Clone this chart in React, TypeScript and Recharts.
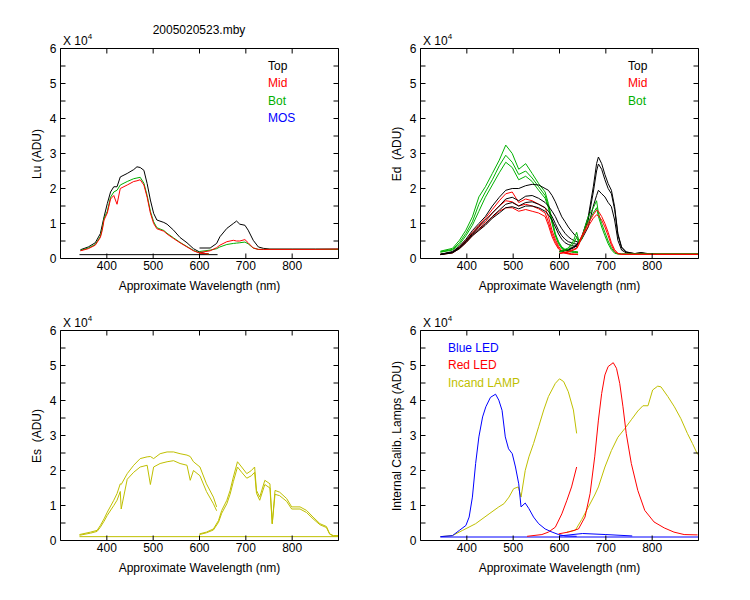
import React from 'react';
import { LineChart, Line, XAxis, YAxis } from 'recharts';

const FONT = '"Liberation Sans", Arial, sans-serif';
const BLACK = '#000000';
const RED = '#FF0000';
const GREEN = '#00B000';
const BLUE = '#0000FF';
const OLIVE = '#BFBF00';

const xTicks = [400, 500, 600, 700, 800];
const yTicks = [0, 0.5, 1, 1.5, 2, 2.5, 3, 3.5, 4, 4.5, 5, 5.5, 6];

// ---- Lu (x 10^4 ADU) ----
const luWlA = [343, 360, 375, 386, 390, 394, 401, 408, 415, 422, 429, 444, 458, 465, 472, 480, 487, 494, 501, 508, 523, 530, 544, 558, 573, 587, 601, 620];
const luTopA = [0.25, 0.33, 0.45, 0.71, 0.95, 1.19, 1.57, 1.9, 2.05, 2.05, 2.33, 2.43, 2.54, 2.62, 2.6, 2.52, 2.14, 1.67, 1.29, 1.1, 1.03, 0.98, 0.81, 0.6, 0.45, 0.28, 0.18, 0.12];
const luMidA = [0.22, 0.28, 0.38, 0.6, 0.8, 1.1, 1.3, 1.7, 1.8, 1.55, 2.0, 2.1, 2.2, 2.22, 2.25, 2.1, 1.75, 1.3, 1.0, 0.85, 0.78, 0.7, 0.57, 0.45, 0.33, 0.22, 0.15, 0.13];
const luBotA = [0.23, 0.3, 0.4, 0.63, 0.85, 1.15, 1.35, 1.75, 1.9, 1.95, 2.1, 2.2, 2.28, 2.3, 2.32, 2.15, 1.8, 1.35, 1.05, 0.88, 0.8, 0.72, 0.59, 0.46, 0.34, 0.23, 0.16, 0.13];
const luWlB = [600, 623, 637, 644, 659, 673, 680, 687, 698, 705, 716, 727, 738, 752, 800, 850, 900];
const luTopB = [0.3, 0.3, 0.43, 0.62, 0.86, 1.0, 1.07, 0.98, 0.95, 0.81, 0.52, 0.33, 0.29, 0.27, 0.27, 0.27, 0.27];
const luMidB = [0.17, 0.22, 0.31, 0.38, 0.48, 0.52, 0.5, 0.5, 0.54, 0.45, 0.3, 0.26, 0.26, 0.26, 0.26, 0.26, 0.27];
const luBotB = [0.2, 0.24, 0.28, 0.33, 0.4, 0.43, 0.44, 0.45, 0.47, 0.42, 0.3, 0.26, 0.26, 0.26, 0.26, 0.26, 0.26];
const luDarkWl = [341, 639];
const luDark = [0.11, 0.11];

// ---- Ed ----
const edWlA = [343, 369, 384, 398, 412, 426, 440, 455, 470, 484, 498, 512, 527, 541, 555, 569, 576, 584, 591, 598, 605, 612, 619, 626, 633, 640];
const edBot1A = [0.21, 0.29, 0.52, 0.81, 1.19, 1.76, 2.05, 2.43, 2.81, 3.24, 3.0, 2.55, 2.71, 2.43, 2.14, 1.9, 1.57, 1.1, 0.71, 0.48, 0.33, 0.26, 0.24, 0.22, 0.2, 0.19];
const edBot2A = [0.19, 0.26, 0.45, 0.72, 1.05, 1.55, 1.9, 2.25, 2.65, 2.95, 2.75, 2.4, 2.5, 2.3, 2.05, 1.8, 1.5, 1.05, 0.68, 0.45, 0.3, 0.25, 0.22, 0.2, 0.18, 0.17];
const edBot3A = [0.18, 0.24, 0.4, 0.65, 0.95, 1.35, 1.75, 2.1, 2.45, 2.75, 2.6, 2.25, 2.35, 2.2, 1.95, 1.72, 1.45, 1.0, 0.65, 0.42, 0.28, 0.23, 0.2, 0.18, 0.17, 0.16];
const edTop1A = [0.12, 0.2, 0.35, 0.55, 0.8, 1.0, 1.2, 1.5, 1.75, 1.95, 2.0, 2.0, 2.08, 2.12, 2.1, 2.0, 1.95, 1.8, 1.62, 1.4, 1.19, 1.05, 0.9, 0.78, 0.67, 0.57];
const edTop2A = [0.12, 0.18, 0.32, 0.5, 0.72, 0.92, 1.1, 1.3, 1.5, 1.7, 1.75, 1.65, 1.78, 1.8, 1.72, 1.6, 1.5, 1.35, 1.2, 1.0, 0.85, 0.72, 0.62, 0.55, 0.5, 0.47];
const edTop3A = [0.12, 0.17, 0.3, 0.48, 0.68, 0.85, 1.0, 1.2, 1.38, 1.55, 1.6, 1.5, 1.6, 1.62, 1.55, 1.45, 1.35, 1.2, 1.0, 0.8, 0.65, 0.55, 0.48, 0.45, 0.42, 0.4];
const edTop4A = [0.11, 0.16, 0.28, 0.45, 0.65, 0.8, 0.95, 1.15, 1.3, 1.45, 1.48, 1.42, 1.5, 1.5, 1.45, 1.35, 1.25, 1.1, 0.9, 0.7, 0.55, 0.45, 0.4, 0.37, 0.35, 0.33];
const edMid1A = [0.12, 0.18, 0.33, 0.52, 0.75, 0.95, 1.15, 1.4, 1.65, 1.85, 1.9, 1.6, 1.7, 1.65, 1.55, 1.45, 1.2, 0.8, 0.55, 0.35, 0.22, 0.17, 0.15, 0.13, 0.12, 0.12];
const edMid2A = [0.12, 0.17, 0.3, 0.48, 0.7, 0.9, 1.05, 1.3, 1.5, 1.65, 1.62, 1.5, 1.55, 1.5, 1.42, 1.3, 1.05, 0.7, 0.48, 0.3, 0.2, 0.16, 0.14, 0.12, 0.12, 0.12];
const edMid3A = [0.11, 0.16, 0.28, 0.45, 0.65, 0.82, 0.98, 1.18, 1.35, 1.45, 1.45, 1.35, 1.4, 1.35, 1.3, 1.2, 0.95, 0.62, 0.42, 0.27, 0.18, 0.15, 0.13, 0.12, 0.12, 0.11];
const edWlB = [600, 619, 630, 637, 642, 648, 662, 673, 680, 684, 691, 698, 705, 712, 719, 726, 734, 744, 762, 776, 791, 810, 900];
const edTop1B = [0.21, 0.26, 0.33, 0.4, 0.5, 0.62, 1.19, 2.05, 2.71, 2.9, 2.71, 2.4, 2.14, 1.95, 1.48, 0.71, 0.33, 0.19, 0.14, 0.17, 0.14, 0.12, 0.12];
const edTop2B = [0.2, 0.25, 0.32, 0.38, 0.48, 0.6, 1.1, 1.9, 2.5, 2.7, 2.55, 2.25, 2.0, 1.85, 1.4, 0.68, 0.3, 0.18, 0.14, 0.16, 0.13, 0.12, 0.12];
const edTop3B = [0.19, 0.24, 0.3, 0.36, 0.45, 0.55, 0.9, 1.5, 1.8, 1.95, 1.85, 1.76, 1.6, 1.48, 1.1, 0.52, 0.24, 0.16, 0.13, 0.15, 0.13, 0.12, 0.12];
const edMid1B = [0.15, 0.2, 0.26, 0.3, 0.45, 0.65, 1.0, 1.25, 1.38, 1.35, 1.2, 1.0, 0.75, 0.45, 0.25, 0.15, 0.12, 0.12, 0.12, 0.12, 0.12, 0.12, 0.12];
const edMid2B = [0.14, 0.18, 0.24, 0.28, 0.4, 0.6, 0.92, 1.15, 1.25, 1.22, 1.1, 0.9, 0.65, 0.38, 0.2, 0.14, 0.12, 0.12, 0.12, 0.12, 0.12, 0.12, 0.12];
const edBot1B = [0.2, 0.3, 0.5, 0.75, 0.5, 0.6, 1.2, 1.45, 1.65, 1.3, 1.0, 0.75, 0.5, 0.3, 0.18, 0.13, 0.13, 0.13, 0.13, 0.13, 0.13, 0.13, 0.13];
const edBot2B = [0.18, 0.26, 0.42, 0.6, 0.45, 0.55, 1.05, 1.3, 1.45, 1.2, 0.9, 0.65, 0.42, 0.25, 0.15, 0.13, 0.13, 0.13, 0.13, 0.13, 0.13, 0.13, 0.13];

// ---- Es ----
const esWlA = [341, 365, 379, 386, 394, 401, 415, 422, 429, 431, 444, 458, 472, 487, 494, 501, 515, 530, 544, 558, 573, 580, 587, 601, 615, 630, 637];
const esHiA = [0.17, 0.24, 0.29, 0.43, 0.62, 0.81, 1.15, 1.34, 1.62, 1.6, 1.91, 2.15, 2.34, 2.39, 2.4, 2.34, 2.48, 2.53, 2.53, 2.48, 2.44, 2.4, 2.25, 2.1, 1.62, 1.24, 0.96];
const esLoA = [0.15, 0.21, 0.26, 0.38, 0.55, 0.72, 1.0, 1.15, 1.4, 0.9, 1.75, 1.95, 2.1, 2.15, 1.6, 2.1, 2.2, 2.25, 2.28, 2.2, 2.15, 1.72, 2.0, 1.85, 1.4, 1.05, 0.85];
const esWlB = [600, 615, 630, 641, 648, 659, 666, 673, 682, 691, 702, 712, 719, 723, 730, 741, 752, 757, 763, 773, 788, 799, 817, 831, 845, 860, 874, 881, 889, 900];
const esHiB = [0.19, 0.24, 0.33, 0.57, 0.86, 1.15, 1.43, 1.81, 2.25, 2.1, 1.91, 2.0, 2.1, 1.43, 1.24, 1.72, 1.62, 0.48, 1.43, 1.38, 1.2, 0.96, 0.96, 0.86, 0.67, 0.48, 0.4, 0.19, 0.14, 0.14];
const esLoB = [0.17, 0.22, 0.3, 0.52, 0.78, 1.05, 1.32, 1.68, 2.1, 1.95, 1.78, 1.85, 1.95, 1.35, 1.15, 1.6, 1.5, 0.48, 1.32, 1.28, 1.12, 0.9, 0.9, 0.8, 0.62, 0.45, 0.37, 0.18, 0.13, 0.13];
const esDarkWl = [341, 900];
const esDark = [0.11, 0.11];

// ---- Internal calibration lamps ----
const blueWlA = [343, 369, 384, 398, 405, 412, 419, 426, 434, 441, 451, 462, 469, 476, 483, 490, 498, 505, 512, 517, 526, 534, 544, 555, 569, 584, 598, 612, 637];
const blueA = [0.11, 0.14, 0.29, 0.43, 0.67, 1.24, 2.2, 2.96, 3.53, 3.82, 4.09, 4.18, 4.01, 3.72, 2.96, 2.62, 2.48, 2.1, 1.62, 0.96, 1.07, 0.91, 0.67, 0.48, 0.33, 0.24, 0.17, 0.13, 0.12];
const blueWlB = [600, 650, 700, 757];
const blueB = [0.13, 0.2, 0.17, 0.13];
const blueDarkWl = [343, 900];
const blueDark = [0.1, 0.1];
const redWlA = [530, 562, 576, 591, 605, 616, 626, 637];
const redA = [0.12, 0.17, 0.24, 0.38, 0.76, 1.15, 1.53, 2.1];
const redWlB = [598, 619, 641, 655, 666, 676, 684, 691, 698, 705, 716, 723, 730, 737, 744, 755, 769, 784, 804, 826, 847, 869, 898];
const redB = [0.19, 0.24, 0.33, 0.67, 1.34, 2.39, 3.44, 4.2, 4.73, 4.97, 5.08, 4.92, 4.49, 3.82, 3.06, 2.2, 1.43, 0.86, 0.53, 0.36, 0.24, 0.17, 0.16];
const lampWlA = [343, 369, 391, 419, 448, 469, 480, 491, 501, 511, 517, 526, 534, 544, 555, 566, 576, 591, 600, 609, 619, 630, 637];
const lampA = [0.11, 0.14, 0.29, 0.48, 0.76, 0.96, 1.05, 1.24, 1.48, 1.53, 1.24, 2.0, 2.39, 2.77, 3.25, 3.73, 4.11, 4.49, 4.62, 4.54, 4.25, 3.73, 3.06];
const lampWlB = [616, 634, 648, 662, 676, 684, 698, 712, 726, 741, 755, 769, 780, 791, 801, 812, 819, 834, 848, 862, 876, 887, 898];
const lampB = [0.24, 0.29, 0.6, 0.95, 1.3, 1.53, 2.1, 2.57, 2.95, 3.2, 3.45, 3.7, 3.85, 3.85, 4.3, 4.41, 4.39, 4.11, 3.82, 3.48, 3.06, 2.77, 2.46];

const pts = (wl: number[], v: number[]) => wl.map((x, i) => ({ x, y: v[i] }));

type Series = { data: { x: number; y: number }[]; color: string };

const s = (wl: number[], v: number[], color: string): Series => ({ data: pts(wl, v), color });

const luSeries = [
  s(luDarkWl, luDark, BLACK),
  s(luWlA, luTopA, BLACK), s(luWlA, luBotA, GREEN), s(luWlA, luMidA, RED),
  s(luWlB, luTopB, BLACK), s(luWlB, luBotB, GREEN), s(luWlB, luMidB, RED),
];
const edSeries = [
  s(edWlA, edBot1A, GREEN), s(edWlA, edBot2A, GREEN), s(edWlA, edBot3A, GREEN),
  s(edWlA, edMid1A, RED), s(edWlA, edMid2A, RED), s(edWlA, edMid3A, RED),
  s(edWlA, edTop1A, BLACK), s(edWlA, edTop2A, BLACK), s(edWlA, edTop3A, BLACK), s(edWlA, edTop4A, BLACK),
  s(edWlB, edTop1B, BLACK), s(edWlB, edTop2B, BLACK), s(edWlB, edTop3B, BLACK),
  s(edWlB, edBot1B, GREEN), s(edWlB, edBot2B, GREEN),
  s(edWlB, edMid1B, RED), s(edWlB, edMid2B, RED),
];
const esSeries = [
  s(esDarkWl, esDark, OLIVE),
  s(esWlA, esHiA, OLIVE), s(esWlA, esLoA, OLIVE),
  s(esWlB, esHiB, OLIVE), s(esWlB, esLoB, OLIVE),
];
const lampSeries = [
  s(lampWlA, lampA, OLIVE), s(lampWlB, lampB, OLIVE),
  s(blueDarkWl, blueDark, BLUE), s(blueWlB, blueB, BLUE),
  s(redWlA, redA, RED), s(redWlB, redB, RED),
  s(blueWlA, blueA, BLUE),
];

// plot frame inside each 375x300 chart
const L = 60.5;
const R = 338.5;
const T = 48.5;
const B = 258.5;

const tickFont = { fill: BLACK, fontSize: 12, fontFamily: FONT };

const LeftTick = (p: any) => (
  <g>
    <line x1={L} x2={L + 5} y1={p.y} y2={p.y} stroke={BLACK} />
    {Number.isInteger(p.payload.value) && (
      <text x={L - 4} y={p.y} dy="0.36em" textAnchor="end" {...tickFont}>{p.payload.value}</text>
    )}
  </g>
);
const RightTick = (p: any) => <line x1={R - 5} x2={R} y1={p.y} y2={p.y} stroke={BLACK} />;
const BottomTick = (p: any) => (
  <g>
    <line x1={p.x} x2={p.x} y1={B} y2={B - 5} stroke={BLACK} />
    <text x={p.x} y={B + 3} dy="0.72em" textAnchor="middle" {...tickFont}>{p.payload.value}</text>
  </g>
);
const TopTick = (p: any) => <line x1={p.x} x2={p.x} y1={T} y2={T + 5} stroke={BLACK} />;

const txt: React.CSSProperties = { position: 'absolute', fontFamily: FONT, fontSize: 12, color: BLACK, whiteSpace: 'pre', lineHeight: 1 };

type PanelProps = {
  ox: number;
  oy: number;
  series: Series[];
  yLabel: string;
  legend: { label: string; color: string }[];
  legendX: number;
};

const Panel = ({ ox, oy, series, yLabel, legend, legendX }: PanelProps) => (
  <div style={{ position: 'absolute', left: ox, top: oy, width: 375, height: 300 }}>
    <LineChart width={375} height={300} margin={{ top: 47.5, left: 59.5, right: 35.5, bottom: 40.5 }}>
      <XAxis xAxisId="b" type="number" dataKey="x" domain={[300, 900]} ticks={xTicks} interval={0}
        orientation="bottom" height={1} tickLine={false} tick={BottomTick} stroke={BLACK} allowDataOverflow />
      <XAxis xAxisId="t" type="number" dataKey="x" domain={[300, 900]} ticks={xTicks} interval={0}
        orientation="top" height={1} tickLine={false} tick={TopTick} stroke={BLACK} allowDataOverflow />
      <YAxis yAxisId="l" type="number" domain={[0, 6]} ticks={yTicks} interval={0} width={1}
        tickLine={false} tick={LeftTick} stroke={BLACK} allowDataOverflow />
      <YAxis yAxisId="r" orientation="right" type="number" domain={[0, 6]} ticks={yTicks} interval={0}
        width={1} tickLine={false} tick={RightTick} stroke={BLACK} allowDataOverflow />
      {series.map((d, i) => (
        <Line key={i} xAxisId="b" yAxisId="l" data={d.data} dataKey="y" stroke={d.color} strokeWidth={1}
          dot={false} isAnimationActive={false} />
      ))}
    </LineChart>
    <div style={{ ...txt, left: 63, top: 40, transform: 'translateY(-50%)' }}>
      X 10<span style={{ fontSize: 8, verticalAlign: 6 }}>4</span>
    </div>
    <div style={{ ...txt, left: 37, top: 153.5, transform: 'translate(-50%, -50%) rotate(-90deg)' }}>{yLabel}</div>
    <div style={{ ...txt, left: 199.5, top: 286, transform: 'translate(-50%, -50%)' }}>Approximate Wavelength (nm)</div>
    {legend.map((l, i) => (
      <div key={l.label} style={{ ...txt, left: legendX, top: 65.7 + i * 17.5, color: l.color, transform: 'translateY(-50%)' }}>
        {l.label}
      </div>
    ))}
  </div>
);

export default function App() {
  return (
    <div style={{ position: 'absolute', left: 0, top: 0, width: 750, height: 600, background: '#fff' }}>
      <div style={{ ...txt, left: 199, top: 30, transform: 'translate(-50%, -50%)' }}>2005020523.mby</div>
      <Panel ox={0} oy={0} series={luSeries} yLabel="Lu (ADU)" legendX={268}
        legend={[{ label: 'Top', color: BLACK }, { label: 'Mid', color: RED }, { label: 'Bot', color: GREEN }, { label: 'MOS', color: BLUE }]} />
      <Panel ox={360} oy={0} series={edSeries} yLabel="Ed  (ADU)" legendX={268}
        legend={[{ label: 'Top', color: BLACK }, { label: 'Mid', color: RED }, { label: 'Bot', color: GREEN }]} />
      <Panel ox={0} oy={282} series={esSeries} yLabel="Es  (ADU)" legendX={268} legend={[]} />
      <Panel ox={360} oy={282} series={lampSeries} yLabel="Internal Calib. Lamps (ADU)" legendX={88}
        legend={[{ label: 'Blue LED', color: BLUE }, { label: 'Red LED', color: RED }, { label: 'Incand LAMP', color: OLIVE }]} />
    </div>
  );
}
